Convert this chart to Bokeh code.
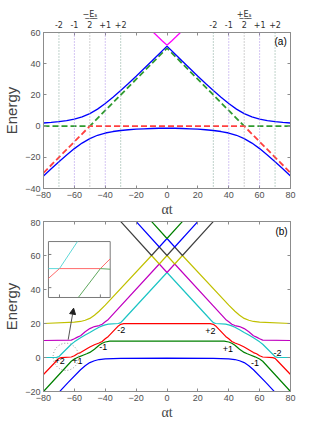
from bokeh.plotting import figure
from bokeh.models import Range1d, LinearAxis, FixedTicker, Label, Arrow, NormalHead, Span
from bokeh.layouts import column
from bokeh.embed import file_html
from bokeh.resources import INLINE

# ---------------- panel (a) data ----------------
a_t = [-80, -75, -70, -65, -60, -55, -50, -45, -40, -35, -30, -25, -20, -15, -10, -5, 0,
       5, 10, 15, 20, 25, 30, 35, 40, 45, 50, 55, 60, 65, 70, 75, 80]
a_upper = [2.0, 2.34, 2.81, 3.47, 4.43, 5.88, 8.0, 10.88, 14.43, 18.47, 22.81, 27.34, 32.0, 36.74, 41.54, 46.38, 51.25,
           46.38, 41.54, 36.74, 32.0, 27.34, 22.81, 18.47, 14.43, 10.88, 8.0, 5.88, 4.43, 3.47, 2.81, 2.34, 2.0]
a_lower = [-32.0, -27.34, -22.81, -18.47, -14.43, -10.88, -8.0, -5.88, -4.43, -3.47, -2.81, -2.34, -2.0, -1.74, -1.54, -1.38, -1.25,
           -1.38, -1.54, -1.74, -2.0, -2.34, -2.81, -3.47, -4.43, -5.88, -8.0, -10.88, -14.43, -18.47, -22.81, -27.34, -32.0]
a_red_t = [-80, -50, 50, 80]
a_red_e = [-30, 0, 0, -30]
a_green_t = [-80, -50, 0, 50, 80]
a_green_e = [0, 0, 50, 0, 0]
a_mag_t = [-10, -6, -3, -1, 0, 1, 3, 6, 10]
a_mag_e = [61.2, 57.4, 54.6, 52.8, 51.9, 52.8, 54.6, 57.4, 61.2]
a_res_sb2 = [-70, -30, 30, 70]
a_res_sb1 = [-60, -40, 40, 60]
a_res_main = [-50, 50]
a_top_ticks = [-70, -60, -50, -40, -30, 30, 40, 50, 60, 70]
a_top_labels = ["-2", "-1", "\u2212\u0332E\u0332\u209b\u0332\n2", "+1", "+2",
                "-2", "-1", "+\u0332E\u0332\u209b\u0332\n2", "+1", "+2"]
x_ticks = [-80, -60, -40, -20, 0, 20, 40, 60, 80]
a_y_ticks = [-40, -20, 0, 20, 40, 60]
b_y_ticks = [-20, 0, 20, 40, 60, 80]

# ---------------- panel (b) data (9 levels, sorted) ----------------
b1_t = [-80, -64, -56, -53, -50, -47, -44, -40, -30, 0, 30, 40, 44, 47, 50, 53, 56, 64, 80]
b1_e = [-30.3, -14.6, -7.2, -4.9, -3.0, -1.9, -1.2, -0.8, -0.5, -0.4, -0.5, -0.8, -1.2, -1.9, -3.0, -4.9, -7.2, -14.6, -30.3]
b2_t = [-80, -62, -60, -57, -54, -52, -50, -47, -44, -42, -40, -37, 0,
        37, 40, 42, 44, 47, 50, 52, 54, 57, 60, 62, 80]
b2_e = [-20, -2.2, -0.9, 0.4, 1.5, 2.2, 3.0, 4.9, 7.2, 8.4, 9.1, 9.6, 9.7,
        9.6, 9.1, 8.4, 7.2, 4.9, 3.0, 2.2, 1.5, 0.4, -0.9, -2.2, -20]
b3_t = [-80, -71.5, -70, -68.5, -62, -60, -58, -56, -53, -50, -47, -44, -42, -40, -38, -31.5, -30, -28, 0,
        28, 30, 31.5, 38, 40, 42, 44, 47, 50, 53, 56, 58, 60, 62, 68.5, 70, 71.5, 80]
b3_e = [-10, -1.9, -0.5, -0.1, 0.3, 1.0, 2.2, 2.9, 4.6, 6.2, 7.5, 8.5, 9.4, 11.0, 12.4, 18.6, 19.5, 19.9, 19.9,
        19.9, 19.5, 18.6, 12.4, 11.0, 9.4, 8.5, 7.5, 6.2, 4.6, 2.9, 2.2, 1.0, 0.3, -0.1, -0.5, -1.9, -10]
b4_t = [-80, -71.5, -70, -68.5, -62, -60, -58, -56, -53, -50, -47, -44, -42, -40, -38, -31.5, -30, -28.5, 0,
        28.5, 30, 31.5, 38, 40, 42, 44, 47, 50, 53, 56, 58, 60, 62, 68.5, 70, 71.5, 80]
b4_e = [0, 0.1, 0.5, 1.9, 7.8, 9.2, 10.4, 11.6, 13.2, 14.7, 16.3, 17.8, 18.6, 19.2, 19.6, 20.0, 20.5, 21.9, 50,
        21.9, 20.5, 20.0, 19.6, 19.2, 18.6, 17.8, 16.3, 14.7, 13.2, 11.6, 10.4, 9.2, 7.8, 1.9, 0.5, 0.1, 0]
b5_t = [-80, -62, -60, -58, -56, -53, -50, -47, -44, -42, -40, -38, -5, 0,
        5, 38, 40, 42, 44, 47, 50, 53, 56, 58, 60, 62, 80]
b5_e = [10, 10.2, 11.0, 12.0, 12.8, 15.1, 17.0, 18.2, 18.8, 19.6, 21.0, 22.4, 55, 50,
        55, 22.4, 21.0, 19.6, 18.8, 18.2, 17.0, 15.1, 12.8, 12.0, 11.0, 10.2, 10]
b6_t = [-80, -60, -56, -53, -50, -47, -44, -40, -10, -5, 0, 5, 10, 40, 44, 47, 50, 53, 56, 60, 80]
b6_e = [20, 20.8, 21.2, 21.9, 23.0, 24.9, 27.2, 30.8, 60, 55, 60, 55, 60, 30.8, 27.2, 24.9, 23.0, 21.9, 21.2, 20.8, 20]
b7_t = [-40, -10, -5, 0, 5, 10, 40]
b7_e = [90, 60, 65, 60, 65, 60, 90]
b8_t = [-25, -5, 0, 5, 25]
b8_e = [85, 65, 70, 65, 85]
b9_t = [-15, 0, 15]
b9_e = [85, 70, 85]
b_levels = [(b1_t, b1_e), (b2_t, b2_e), (b3_t, b3_e), (b4_t, b4_e), (b5_t, b5_e),
            (b6_t, b6_e), (b7_t, b7_e), (b8_t, b8_e), (b9_t, b9_e)]
b_colors = ["#0000ff", "#008000", "#ff0000", "#1cc4c4", "#c000c0", "#c0c000", "#404040", "#0000ff", "#008000"]

b_lab_t = [-69.5, -58.0, -41.3, -29.7, 28.1, 39.4, 57.0, 71.6]
b_lab_e = [-2.3, -2.3, 6.4, 16.2, 15.3, 5.1, -3.5, 2.9]
b_lab_text = ["+2", "+1", "-1", "-2", "+2", "+1", "-1", "-2"]

# inset (zoom of the circled region)
inset_box_t = [-76.8, -36.8]
inset_box_e = [35.3, 68.2]
inset_t_range = [-72.7, -57.6]
inset_e_range = [-4.7, 4.4]
inset_cyan_t = [-72.7, -70.0, -65.6]
inset_cyan_e = [0.0, 0.0, 4.4]
inset_red_t = [-72.7, -70.0, -60.0, -57.6]
inset_red_e = [-1.6, 0.0, 0.0, 1.6]
inset_green_t = [-65.4, -60.0, -57.6]
inset_green_e = [-4.7, 0.0, -0.1]
inset_xticks = [-70, -60]
inset_yticks = [2.3, -3.1]
arrow_t = [-64.0, -60.5]
arrow_e = [10.5, 29.0]
circle_t, circle_e, circle_w, circle_h = -65.5, 0.4, 16.5, 16.0

AX = "#8c8c8c"
TICKF = "Liberation Sans"


def style_axes(p, yticks, top_ticks_only):
    p.grid.visible = False
    p.outline_line_color = AX
    p.xaxis.ticker = x_ticks
    p.yaxis.ticker = yticks
    for ax in p.xaxis + p.yaxis:
        ax.axis_line_color = AX
        ax.major_tick_line_color = AX
        ax.major_tick_in = 3
        ax.major_tick_out = 0
        ax.minor_tick_line_color = None
        ax.major_label_text_font = TICKF
        ax.major_label_text_font_size = "9px"
        ax.major_label_text_color = "#505050"
        ax.major_label_standoff = 3
    p.yaxis.axis_label = "Energy"
    p.yaxis.axis_label_text_font = "Liberation Sans"
    p.yaxis.axis_label_text_font_size = "15px"
    p.yaxis.axis_label_text_font_style = "normal"
    p.yaxis.axis_label_standoff = 2
    p.xaxis.axis_label = "\u03b1t"
    p.xaxis.axis_label_text_font = "Liberation Serif"
    p.xaxis.axis_label_text_font_size = "14px"
    p.xaxis.axis_label_text_font_style = "normal"
    p.xaxis.axis_label_standoff = 1
    right = LinearAxis(ticker=FixedTicker(ticks=[], minor_ticks=yticks), axis_line_color=AX,
                       major_tick_line_color=None, minor_tick_line_color=AX,
                       minor_tick_in=3, minor_tick_out=0, major_label_standoff=0)
    p.add_layout(right, "right")
    if top_ticks_only:
        topax = LinearAxis(ticker=FixedTicker(ticks=[], minor_ticks=x_ticks), axis_line_color=AX,
                           major_tick_line_color=None, minor_tick_line_color=AX,
                           minor_tick_in=3, minor_tick_out=0, major_label_standoff=0)
        p.add_layout(topax, "above")


# ---------------- figure (a) ----------------
pa = figure(width=300, height=219, x_range=Range1d(-80, 80), y_range=Range1d(-40, 60),
            output_backend="svg", toolbar_location=None,
            min_border_left=42, min_border_right=8, min_border_top=32, min_border_bottom=30)
style_axes(pa, a_y_ticks, False)
top = LinearAxis(ticker=FixedTicker(ticks=a_top_ticks, minor_ticks=x_ticks),
                 major_label_overrides={t: l for t, l in zip(a_top_ticks, a_top_labels)},
                 axis_line_color=AX, major_tick_line_color=None, major_tick_in=0, major_tick_out=0,
                 minor_tick_line_color=AX, minor_tick_in=3, minor_tick_out=0,
                 major_label_text_font="DejaVu Sans", major_label_text_font_size="8px",
                 major_label_text_color="#303030", major_label_standoff=3)
pa.add_layout(top, "above")

for locs, col in [(a_res_sb2, "#7fa596"), (a_res_sb1, "#a98be6"), (a_res_main, "#a0a0a0")]:
    for loc in locs:
        pa.add_layout(Span(location=loc, dimension="height", line_color=col, line_dash="1 2", line_width=1))

pa.line(a_green_t, a_green_e, line_color="#2f9a2f", line_width=1.8, line_dash="6 3")
pa.line(a_red_t, a_red_e, line_color="#ff4040", line_width=1.8, line_dash="6 3")
pa.line(a_mag_t, a_mag_e, line_color="#ff00ff", line_width=1.3)
pa.line(a_t, a_upper, line_color="#0000ff", line_width=1.3)
pa.line(a_t, a_lower, line_color="#0000ff", line_width=1.3)

pa.add_layout(Label(x=73.6, y=54, text="(a)", text_align="center", text_baseline="middle",
                    text_font="Liberation Sans", text_font_size="10px", text_color="black"))

# ---------------- figure (b) ----------------
pb = figure(width=300, height=203, x_range=Range1d(-80, 80), y_range=Range1d(-20, 80),
            output_backend="svg", toolbar_location=None,
            min_border_left=42, min_border_right=10, min_border_top=2, min_border_bottom=31)
style_axes(pb, b_y_ticks, True)

for (tt, ee), col in zip(b_levels, b_colors):
    pb.line(tt, ee, line_color=col, line_width=1.2)

for t, e, s in zip(b_lab_t, b_lab_e, b_lab_text):
    pb.add_layout(Label(x=t, y=e, text=s, text_align="center", text_baseline="middle",
                        text_font="Liberation Sans", text_font_size="9px", text_color="black"))

pb.ellipse(x=[circle_t], y=[circle_e], width=circle_w, height=circle_h, fill_alpha=0,
           line_color="#909090", line_dash="1 2", line_width=1)

bx0, bx1 = inset_box_t
by0, by1 = inset_box_e
ix0, ix1 = inset_t_range
iy0, iy1 = inset_e_range


def mx(v):
    return bx0 + (v - ix0) / (ix1 - ix0) * (bx1 - bx0)


def my(v):
    return by0 + (v - iy0) / (iy1 - iy0) * (by1 - by0)


pb.quad(left=[bx0], right=[bx1], bottom=[by0], top=[by1], fill_color="white", line_color="#7a7a7a", line_width=1)
for tt, ee, col in [(inset_cyan_t, inset_cyan_e, "#5fd9d9"), (inset_red_t, inset_red_e, "#ff6a6a"),
                    (inset_green_t, inset_green_e, "#5fa85f")]:
    pb.line([mx(v) for v in tt], [my(v) for v in ee], line_color=col, line_width=1)
pb.segment(x0=[mx(v) for v in inset_xticks], y0=[by0] * len(inset_xticks),
           x1=[mx(v) for v in inset_xticks], y1=[by0 + 1.8] * len(inset_xticks), line_color="#7a7a7a")
pb.segment(x0=[bx0] * len(inset_yticks), y0=[my(v) for v in inset_yticks],
           x1=[bx0 + 1.9] * len(inset_yticks), y1=[my(v) for v in inset_yticks], line_color="#7a7a7a")
pb.add_layout(Arrow(end=NormalHead(size=6, fill_color="#202020", line_color="#202020"),
                    x_start=arrow_t[0], y_start=arrow_e[0], x_end=arrow_t[1], y_end=arrow_e[1],
                    line_color="#404040", line_width=0.9))

pb.add_layout(Label(x=74.2, y=74.1, text="(b)", text_align="center", text_baseline="middle",
                    text_font="Liberation Sans", text_font_size="10px", text_color="black"))

layout = column(pa, pb, spacing=0)
open("out.html", "w").write(file_html(layout, INLINE))
